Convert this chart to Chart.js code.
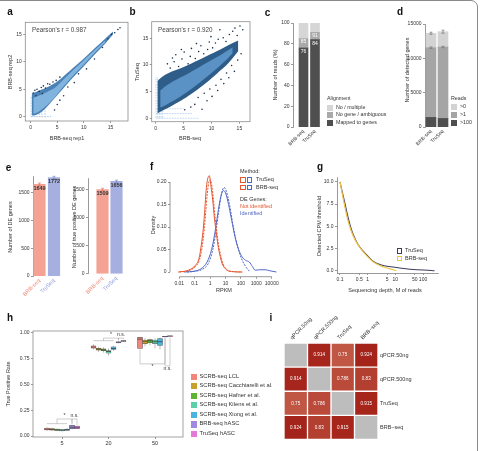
<!DOCTYPE html>
<html>
<head>
<meta charset="utf-8">
<title>BRB-seq vs TruSeq</title>
<script src="https://cdn.jsdelivr.net/npm/chart.js@4.4.1/dist/chart.umd.min.js"></script>
<style>
  body { margin: 0; background: #fff; }
  #page { position: relative; width: 481px; height: 451px; overflow: hidden; background: #fff;
          font-family: "Liberation Sans", Arial, sans-serif; color: #333; }
  #page canvas { position: absolute; left: 0; top: 0; }
  .t { position: absolute; white-space: nowrap; line-height: 1; }
  .sq { position: absolute; box-sizing: border-box; }
  #frame { position: absolute; left: -20px; top: 0; width: 498px; height: 480px;
           border: 1px solid #8a8a8a; border-radius: 7px; box-sizing: border-box; }
</style>
</head>
<body>
<div id="page"><div id="frame"></div></div>
<script>
const W = 481, H = 451
const FONT = "'Liberation Sans', Arial, sans-serif"
const page = document.getElementById("page")

// ---------- data ----------

// a: BRB-seq rep1 vs rep2 (dense band edges, outlier genes, low-count stripes)
const aBandX = [0.2, 1, 2, 3, 4, 5, 6, 8, 10, 12, 14, 15.5]
const aBandHi = [4.2, 4.5, 4.9, 5.3, 5.8, 6.4, 7.2, 8.9, 10.6, 12.4, 14.2, 15.5]
const aBandLo = [0.2, 0.3, 0.8, 1.7, 2.8, 3.9, 5.0, 7.2, 9.2, 11.3, 13.3, 15.0]
const aCoreX = [0.5, 1.5, 2.5, 3.5, 4.5, 6, 8, 10, 12, 14]
const aCoreHi = [3.4, 3.8, 4.2, 4.7, 5.2, 6.6, 8.5, 10.3, 12.1, 13.9]
const aCoreLo = [0.5, 0.9, 1.6, 2.5, 3.5, 5.3, 7.5, 9.5, 11.6, 13.5]
const aDotX = [0.5, 0.8, 1.2, 1.6, 2.0, 2.4, 2.8, 3.2, 3.6, 4.2, 4.8, 5.5, 1.0, 2.2, 4.5, 5.0, 5.5, 6.2, 7.0, 8.2, 9.0, 10.5, 12.0, 13.5, 14.5, 15.2, 15.8, 16.4, 16.8]
const aDotY = [4.3, 4.8, 5.0, 4.6, 5.3, 5.6, 5.2, 6.0, 5.9, 6.3, 6.6, 7.2, 3.8, 4.2, 1.2, 2.2, 3.0, 3.8, 5.4, 6.2, 7.8, 8.7, 10.5, 12.6, 14.2, 15.0, 15.3, 15.9, 16.2]
const aStripeX = [0.1, 0.5, 1.0, 1.6, 2.1, 2.7]
const aStripeTop = [3.6, 3.8, 4.0, 4.2, 4.0, 3.8]
const aRowY = [0]
const aRowEnd = [3.8]

// b: BRB-seq vs TruSeq
const bBandX = [0.3, 1.5, 3, 5, 7, 9, 11, 13, 14.8]
const bBandHi = [7.0, 8.0, 8.8, 9.6, 10.6, 11.6, 12.6, 13.7, 14.6]
const bBandLo = [0.9, 1.6, 2.4, 3.6, 5.0, 6.6, 8.4, 10.3, 12.6]
const bCoreX = [0.8, 2, 4, 6, 8, 10, 12, 13.8]
const bCoreHi = [5.2, 6.2, 7.4, 8.5, 9.7, 10.9, 12.1, 13.3]
const bCoreLo = [2.0, 2.6, 3.8, 5.2, 6.8, 8.5, 10.3, 12.2]
const bDotX = [2.1, 2.6, 3.3, 3.6, 4.1, 4.7, 5.1, 5.8, 6.2, 6.4, 7.1, 7.7, 8.1, 8.6, 9.3, 9.6, 10.2, 10.7, 11.2, 12.1, 12.6, 13.2, 13.8, 14.6, 15.1, 14.2, 15.6, 5.2, 6.3, 7.0, 7.6, 8.3, 8.7, 9.2, 9.7, 10.1, 10.8, 11.1, 11.7, 12.2, 12.7, 13.1, 13.6, 14.1, 14.7, 15.3, 3.0, 4.6, 7.3, 9.9, 11.5]
const bDotY = [10.2, 9.4, 10.6, 11.9, 9.7, 11.1, 12.4, 10.2, 11.6, 13.1, 11.2, 12.5, 13.6, 12.1, 12.9, 14.3, 13.2, 14.1, 14.8, 15.1, 14.4, 15.7, 16.3, 15.5, 17.3, 16.9, 16.6, 1.6, 2.1, 2.6, 3.9, 1.7, 4.7, 3.3, 5.5, 4.1, 6.2, 5.2, 7.3, 6.5, 8.5, 7.6, 9.9, 8.8, 10.9, 12.1, 11.3, 12.9, 14.0, 15.3, 16.6]
const bStripeX = [0.05, 0.35, 0.65, 0.95, 1.25]
const bStripeTop = [7.8, 7.6, 7.3, 7.0, 6.6]
const bRowY = [0, 0.9, 1.8]
const bRowEnd = [7.8, 6.5, 5.0]

// c: alignment (% of reads)
const methods = ["BRB-seq", "TruSeq"]
const mappedPct = [76, 84]
const noGenePct = [9, 7]
const multiPct = [15, 9]

// d: detected genes by read count
const reads100 = [1400, 1250]
const reads1 = [10150, 10400]
const reads0 = [2100, 2230]
const readsErrTop = [150, 220]
const readsErrMid = [110, 100]

// e: DE genes
const deGenes = [1649, 1772]
const deGenesErr = [25, 22]
const tpGenes = [1509, 1656]
const tpGenesErr = [22, 20]

// f: density of log10 RPKM
const redSolidX = [-2.07, -1.4, -0.95, -0.72, -0.57, -0.43, -0.34, -0.26, -0.17, -0.05, 0.06, 0.17, 0.28, 0.39, 0.51, 0.62, 0.77, 1.06, 1.4, 2.07]
const redSolidY = [0, 0.004, 0.015, 0.03, 0.06, 0.10, 0.14, 0.18, 0.205, 0.214, 0.19, 0.16, 0.12, 0.09, 0.06, 0.04, 0.02, 0.005, 0.001, 0]
const redDashX = [-2.0, -1.3, -0.9, -0.68, -0.52, -0.38, -0.28, -0.18, -0.08, 0.02, 0.12, 0.22, 0.33, 0.44, 0.56, 0.68, 0.84, 1.1, 1.5, 2.1]
const redDashY = [0, 0.004, 0.014, 0.028, 0.055, 0.095, 0.135, 0.175, 0.2, 0.205, 0.19, 0.16, 0.12, 0.088, 0.058, 0.038, 0.018, 0.005, 0.001, 0]
const blueSolidX = [-1.7, -1.0, -0.6, -0.2, 0.1, 0.3, 0.5, 0.68, 0.85, 1.0, 1.2, 1.4, 1.62, 1.85, 2.07, 2.3, 2.55, 2.75, 2.93, 3.2, 3.6, 3.85, 4.3]
const blueSolidY = [0, 0.002, 0.007, 0.022, 0.05, 0.085, 0.13, 0.165, 0.181, 0.176, 0.15, 0.115, 0.078, 0.05, 0.034, 0.026, 0.022, 0.012, 0.004, 0.005, 0.005, 0.003, 0]
const blueDashX = [-1.5, -0.9, -0.5, -0.1, 0.18, 0.38, 0.56, 0.72, 0.9, 1.05, 1.25, 1.45, 1.65, 1.88, 2.1, 2.35, 2.6]
const blueDashY = [0, 0.002, 0.006, 0.02, 0.05, 0.09, 0.135, 0.17, 0.188, 0.18, 0.152, 0.112, 0.075, 0.045, 0.025, 0.01, 0]
const rpkmTicks = [0.01, 0.1, 1, 10, 100, 1000, 10000]
const rpkmLabels = ["0.01", "0.1", "1", "10", "100", "1000", "10000"]

// g: CPM threshold vs sequencing depth
const depthTru = [0.1, 0.15, 0.2, 0.25, 0.3, 0.46, 0.8, 1.6, 3.6, 11, 44, 200, 260]
const cpmTru = [10, 7.6, 5.9, 4.8, 4.1, 2.9, 2.0, 1.05, 0.6, 0.37, 0.15, 0.03, 0.0]
const depthBrb = [0.1, 0.15, 0.2, 0.3, 0.5, 0.8, 1.6, 3.6, 6, 11]
const cpmBrb = [10, 7.2, 5.5, 3.9, 2.7, 1.9, 1.0, 0.45, 0.25, 0.0]
const depthTicks = [0.1, 0.5, 1, 5, 10, 50, 100]

// h: true positive rate boxplots
const tprGroups = ["5", "20", "50"]
const tprMethods = ["SCRB-seq LCL", "SCRB-seq Cacchiarelli et al.", "SCRB-seq Hafner et al.", "SCRB-seq Kilens et al.", "SCRB-seq Xiong et al.", "BRB-seq hASC", "TruSeq hASC"]
const tprLo  = [[0.050, 0.840, 0.850], [0.050, 0.815, 0.870], [0.047, 0.810, 0.880], [0.045, 0.780, 0.850], [0.050, 0.825, 0.840], [0.065, 0.900, 0.960], [0.068, 0.915, 0.964]]
const tprQ1  = [[0.058, 0.852, 0.850], [0.056, 0.832, 0.895], [0.053, 0.828, 0.905], [0.050, 0.805, 0.895], [0.055, 0.840, 0.880], [0.072, 0.903, 0.962], [0.072, 0.918, 0.966]]
const tprMed = [[0.066, 0.863, 0.940], [0.063, 0.842, 0.920], [0.060, 0.836, 0.925], [0.056, 0.820, 0.915], [0.062, 0.850, 0.915], [0.085, 0.910, 0.965], [0.085, 0.922, 0.970]]
const tprQ3  = [[0.078, 0.874, 0.958], [0.072, 0.850, 0.932], [0.066, 0.845, 0.935], [0.062, 0.830, 0.930], [0.068, 0.865, 0.945], [0.104, 0.915, 0.968], [0.097, 0.926, 0.973]]
const tprHi  = [[0.085, 0.890, 0.960], [0.080, 0.865, 0.950], [0.072, 0.860, 0.945], [0.070, 0.850, 0.950], [0.075, 0.875, 0.955], [0.110, 0.920, 0.970], [0.100, 0.930, 0.975]]
const sigGroup = [0, 0, 1, 1, 2, 2]
const sigFrom = [2, 5, 2, 5, 0, 5]
const sigTo = [5, 6, 5, 6, 5, 6]
const sigLevel = [0.165, 0.165, 0.95, 0.95, 0.70, 0.68]
const sigText = ["*", "n.s.", "*", "n.s.", "*", "n.s."]
const sigBase = [0.12, 0.925, null]

// i: correlation matrix
const corrNames = ["qPCR.50ng", "qPCR.500ng", "TruSeq", "BRB\u2212seq"]
const corrMatrix = [
  [null, 0.914, 0.75, 0.924],
  [0.914, null, 0.786, 0.83],
  [0.75, 0.786, null, 0.915],
  [0.924, 0.83, 0.915, null]
]

// ---------- styles ----------
const salmon = "#f3a293", lavender = "#a6b0e0"
const tprColors = ["#f3867c", "#c6a12c", "#5db530", "#5ccfa9", "#4ab4e0", "#a08ae0", "#e37bd6"]
const redLine = "#e6572f", blueLine = "#5166c6"

Chart.defaults.font.family = FONT
Chart.defaults.color = "#333"

// ---------- helpers ----------
function zip(xs, ys) { return xs.map((x, i) => ({ x, y: ys[i] })) }
function idx(ys) { return ys.map((y, i) => ({ x: i, y })) }
const plain = v => String(v)

function label(s, x, y, o = {}) {
  const d = document.createElement("div")
  d.className = "t"
  d.textContent = s
  d.style.left = x + "px"
  d.style.top = y + "px"
  d.style.fontSize = (o.size || 5.5) + "px"
  if (o.color) d.style.color = o.color
  if (o.bold) d.style.fontWeight = "bold"
  const ax = o.anchor === "c" ? "-50%" : o.anchor === "r" ? "-100%" : "0"
  d.style.transform = `translate(${ax},-50%)` + (o.rot ? ` rotate(${o.rot}deg)` : "")
  page.appendChild(d)
}
function square(x, y, s, fill, border, dashed) {
  const d = document.createElement("div")
  d.className = "sq"
  d.style.left = x + "px"
  d.style.top = (y - s / 2) + "px"
  d.style.width = s + "px"
  d.style.height = s + "px"
  if (fill) d.style.background = fill
  if (border) d.style.border = `1px ${dashed ? "dashed" : "solid"} ${border}`
  page.appendChild(d)
}

function scale(o) {
  const s = {
    type: o.type || "linear",
    offset: !!o.offset,
    ticks: {
      font: { size: o.size || 5, family: FONT },
      color: o.colors ? (ctx) => o.colors[ctx.index] : "#333",
      padding: o.pad ?? 1.5,
      autoSkip: false,
      maxRotation: o.rot || 0,
      minRotation: o.rot || 0
    },
    grid: { drawOnChartArea: false, offset: !!o.offset, drawTicks: o.tick !== 0, tickLength: o.tick ?? 2, color: "#555", lineWidth: 0.6 },
    border: { display: o.border ?? true, color: "#555", width: 0.6 }
  }
  if (o.position) s.position = o.position
  if (o.min !== undefined) s.min = o.min
  if (o.max !== undefined) s.max = o.max
  if (o.stacked) s.stacked = true
  if (o.at) s.afterBuildTicks = sc => { sc.ticks = o.at.map(v => ({ value: v })) }
  if (o.labels) s.ticks.callback = (v, i) => o.labels[i]
  if (o.fmt) s.ticks.callback = o.fmt
  return s
}

// every chart gets a full-page transparent canvas; the plot area is fixed by
// giving each axis the whole strip between the plot and the page edge
function chart(area, config) {
  const c = document.createElement("canvas")
  c.width = W
  c.height = H
  page.appendChild(c)
  const pad = { left: area[0], top: area[1], right: W - area[2], bottom: H - area[3] }
  const scales = (config.options && config.options.scales) || {}
  Object.keys(scales).forEach(id => {
    const s = scales[id]
    const side = s.position || (id === "x" ? "bottom" : "left")
    const size = pad[side]
    pad[side] = 0
    s.afterFit = sc => {
      if (sc.isHorizontal()) sc.height = size; else sc.width = size
      sc.paddingLeft = sc.paddingRight = sc.paddingTop = sc.paddingBottom = 0
    }
  })
  config.options = Object.assign({ responsive: false, animation: false, events: [] }, config.options || {})
  config.options.layout = { padding: pad }
  config.options.plugins = Object.assign({ legend: { display: false }, tooltip: { enabled: false } }, config.options.plugins || {})
  return new Chart(c, config)
}

const framePlugin = {
  id: "frameBox",
  afterDraw(c) {
    const a = c.chartArea, ctx = c.ctx
    ctx.save()
    ctx.strokeStyle = "#8c8c8c"
    ctx.lineWidth = 0.8
    ctx.strokeRect(a.left, a.top, a.right - a.left, a.bottom - a.top)
    ctx.restore()
  }
}

// R style axis lines, only between first and last tick
const rAxesPlugin = {
  id: "rAxes",
  afterDraw(c) {
    const ctx = c.ctx, x = c.scales.x, y = c.scales.y
    ctx.save()
    ctx.strokeStyle = "#555"
    ctx.lineWidth = 0.6
    ctx.beginPath()
    ctx.moveTo(x.getPixelForValue(x.ticks[0].value), x.top)
    ctx.lineTo(x.getPixelForValue(x.ticks[x.ticks.length - 1].value), x.top)
    ctx.moveTo(y.right, y.getPixelForValue(y.ticks[0].value))
    ctx.lineTo(y.right, y.getPixelForValue(y.ticks[y.ticks.length - 1].value))
    ctx.stroke()
    ctx.restore()
  }
}

function errPlugin(specs) {
  return {
    id: "errs",
    afterDatasetsDraw(c) {
      const ctx = c.ctx, y = c.scales.y
      ctx.save()
      ctx.lineWidth = 0.7
      specs.forEach(s => {
        c.getDatasetMeta(s.ds).data.forEach((el, j) => {
          const top = y.getPixelForValue(s.val[j] + s.err[j])
          const bot = y.getPixelForValue(s.val[j] - s.err[j])
          ctx.strokeStyle = Array.isArray(s.color) ? s.color[j] : s.color
          ctx.beginPath()
          ctx.moveTo(el.x, top); ctx.lineTo(el.x, bot)
          ctx.moveTo(el.x - 1.5, top); ctx.lineTo(el.x + 1.5, top)
          ctx.moveTo(el.x - 1.5, bot); ctx.lineTo(el.x + 1.5, bot)
          ctx.stroke()
        })
      })
      ctx.restore()
    }
  }
}

function textPlugin(specs) {
  return {
    id: "barText",
    afterDatasetsDraw(c) {
      const ctx = c.ctx
      ctx.save()
      ctx.textAlign = "center"
      ctx.textBaseline = "top"
      specs.forEach(s => {
        ctx.font = (s.bold ? "bold " : "") + s.size + "px " + FONT
        ctx.fillStyle = s.color
        c.getDatasetMeta(s.ds).data.forEach((el, j) => ctx.fillText(s.text[j], el.x, el.y + s.dy))
      })
      ctx.restore()
    }
  }
}

// ---------- a, b: density scatter ----------
function band(data, color, fill) {
  return { type: "line", data, fill, backgroundColor: color, borderColor: "rgba(0,0,0,0)", borderWidth: 0, pointRadius: 0, tension: 0.35 }
}
function dotted(data, color) {
  return { type: "line", data, fill: false, borderColor: color, borderWidth: 1.1, borderDash: [0.7, 0.9], pointRadius: 0 }
}
function densityScatter(area, xr, yr, d, col) {
  const datasets = [
    { type: "scatter", data: zip(d.dotX, d.dotY), pointRadius: 0.8, pointBackgroundColor: col.dot, pointBorderWidth: 0 },
    band(zip(d.coreX, d.coreHi), col.core, "+1"),
    band(zip(d.coreX, d.coreLo), col.core, false),
    band(zip(d.bandX, d.bandHi), col.band, "+1"),
    band(zip(d.bandX, d.bandLo), col.band, false)
  ]
  d.stripeX.forEach((x, i) => datasets.push(dotted([{ x, y: 0 }, { x, y: d.stripeTop[i] }], col.stripe)))
  d.rowY.forEach((y, i) => datasets.push(dotted([{ x: 0.05, y }, { x: d.rowEnd[i], y }], col.stripe)))
  chart(area, {
    type: "scatter",
    data: { datasets },
    options: {
      scales: {
        x: scale({ min: xr[0], max: xr[1], at: [0, 5, 10, 15], border: false }),
        y: scale({ min: yr[0], max: yr[1], at: [0, 5, 10, 15], border: false })
      }
    },
    plugins: [framePlugin]
  })
}

densityScatter([25.3, 22.3, 128, 121], [-1.0, 18.3], [-0.8, 17.2],
  { bandX: aBandX, bandHi: aBandHi, bandLo: aBandLo, coreX: aCoreX, coreHi: aCoreHi, coreLo: aCoreLo,
    dotX: aDotX, dotY: aDotY, stripeX: aStripeX, stripeTop: aStripeTop, rowY: aRowY, rowEnd: aRowEnd },
  { band: "#4b82b5", core: "#80b4de", dot: "#1f3550", stripe: "#9cc3e6" })

densityScatter([151.7, 21.7, 250, 121.7], [-0.72, 16.9], [-0.64, 18.1],
  { bandX: bBandX, bandHi: bBandHi, bandLo: bBandLo, coreX: bCoreX, coreHi: bCoreHi, coreLo: bCoreLo,
    dotX: bDotX, dotY: bDotY, stripeX: bStripeX, stripeTop: bStripeTop, rowY: bRowY, rowEnd: bRowEnd },
  { band: "#2f5d8a", core: "#5a92c5", dot: "#1b2f47", stripe: "#a8c9e8" })

// ---------- c: alignment ----------
chart([293, 23, 321, 127], {
  type: "bar",
  data: { datasets: [
    { data: idx(mappedPct), backgroundColor: "#4f4f4f", barThickness: 9 },
    { data: idx(noGenePct), backgroundColor: "#a9a9a9", barThickness: 9 },
    { data: idx(multiPct), backgroundColor: "#d6d6d6", barThickness: 9 }
  ] },
  options: {
    scales: {
      x: scale({ min: -0.913, max: 1.522, at: [0, 1], labels: methods, rot: 45, border: false, tick: 0, stacked: true }),
      y: scale({ min: 0, max: 100, at: [0, 20, 40, 60, 80, 100], stacked: true })
    }
  },
  plugins: [textPlugin([
    { ds: 0, text: mappedPct.map(String), color: "#fff", size: 5, dy: 1 },
    { ds: 1, text: mappedPct.map((v, i) => String(v + noGenePct[i])), color: "#fff", size: 5, dy: 1 }
  ])]
})

// ---------- d: detected genes ----------
chart([425, 24, 449, 127], {
  type: "bar",
  data: { datasets: [
    { data: idx(reads100), backgroundColor: "#4f4f4f", barThickness: 10 },
    { data: idx(reads1), backgroundColor: "#a5a5a5", barThickness: 10 },
    { data: idx(reads0), backgroundColor: "#d3d3d3", barThickness: 10 }
  ] },
  options: {
    scales: {
      x: scale({ min: -0.5, max: 1.5, at: [0, 1], labels: methods, rot: 45, border: false, tick: 0, stacked: true }),
      y: scale({ min: 0, max: 15000, at: [0, 5000, 10000, 15000], fmt: plain, stacked: true })
    }
  },
  plugins: [errPlugin([
    { ds: 2, val: reads0.map((v, i) => v + reads1[i] + reads100[i]), err: readsErrTop, color: "#777" },
    { ds: 1, val: reads1.map((v, i) => v + reads100[i]), err: readsErrMid, color: "#777" }
  ])]
})

// ---------- e: DE genes ----------
function deChart(area, xr, ymax, vals, errs) {
  chart(area, {
    type: "bar",
    data: { datasets: [{ data: idx(vals), backgroundColor: [salmon, lavender], barThickness: 11.5 }] },
    options: {
      scales: {
        x: scale({ min: xr[0], max: xr[1], at: [0, 1], labels: methods, rot: 45, border: false, tick: 0, size: 5.5, colors: ["#ef8a78", "#8e9ad8"] }),
        y: scale({ min: 0, max: ymax, at: [0, 500, 1000, 1500], fmt: plain })
      }
    },
    plugins: [
      errPlugin([{ ds: 0, val: vals, err: errs, color: ["#e0776a", "#7b86c9"] }]),
      textPlugin([{ ds: 0, text: vals.map(String), color: "#333", size: 5.5, bold: true, dy: 1 }])
    ]
  })
}
deChart([33, 176, 61, 276], [-0.448, 1.483], 1800, deGenes, deGenesErr)
deChart([88, 178, 124, 273.7], [-1.036, 1.536], 1715, tpGenes, tpGenesErr)

// ---------- f: RPKM density ----------
function curve(xs, ys, color, dash) {
  return { data: xs.map((x, i) => ({ x: Math.pow(10, x), y: ys[i] })), borderColor: color, borderWidth: 1,
           borderDash: dash ? [2, 1.2] : [], pointRadius: 0, tension: 0.4, cubicInterpolationMode: "monotone", fill: false }
}
chart([170, 170, 277, 276.7], {
  type: "line",
  data: { datasets: [
    curve(redDashX, redDashY, redLine, true),
    curve(redSolidX, redSolidY, redLine, false),
    curve(blueDashX, blueDashY, blueLine, true),
    curve(blueSolidX, blueSolidY, blueLine, false)
  ] },
  options: {
    scales: {
      x: scale({ type: "logarithmic", min: 0.00251, max: 21878, at: rpkmTicks, labels: rpkmLabels, border: false }),
      y: scale({ min: -0.0104, max: 0.2267, at: [0, 0.05, 0.1, 0.15, 0.2], labels: ["0", "0.05", "0.10", "0.15", "0.20"], border: false })
    }
  },
  plugins: [rAxesPlugin]
})

// ---------- g: CPM threshold ----------
chart([337, 177, 438, 273], {
  type: "line",
  data: { datasets: [
    { data: zip(depthBrb, cpmBrb), borderColor: "#efc444", borderWidth: 1.2, pointRadius: 0, tension: 0.3, cubicInterpolationMode: "monotone" },
    { data: zip(depthTru, cpmTru), borderColor: "#3d3d5e", borderWidth: 1.1, pointRadius: 0, tension: 0.3, cubicInterpolationMode: "monotone" }
  ] },
  options: {
    scales: {
      x: scale({ type: "logarithmic", min: 0.078, max: 347, at: depthTicks, fmt: plain }),
      y: scale({ min: -0.25, max: 10.55, at: [0, 2.5, 5, 7.5, 10], fmt: v => v.toFixed(1) })
    }
  }
})

// ---------- h: true positive rate ----------
const boxPlugin = {
  id: "boxes",
  beforeDatasetsDraw(c) {
    const ctx = c.ctx, y = c.scales.y
    ctx.save()
    ctx.strokeStyle = "#777"
    ctx.lineWidth = 0.5
    tprMethods.forEach((m, i) => {
      c.getDatasetMeta(i).data.forEach((el, g) => {
        ctx.beginPath()
        ctx.moveTo(el.x, y.getPixelForValue(tprLo[i][g]))
        ctx.lineTo(el.x, y.getPixelForValue(tprHi[i][g]))
        ctx.stroke()
      })
    })
    ctx.restore()
  },
  afterDatasetsDraw(c) {
    const ctx = c.ctx, y = c.scales.y
    ctx.save()
    ctx.strokeStyle = "#333"
    ctx.lineWidth = 0.7
    tprMethods.forEach((m, i) => {
      c.getDatasetMeta(i).data.forEach((el, g) => {
        const py = y.getPixelForValue(tprMed[i][g])
        ctx.beginPath()
        ctx.moveTo(el.x - el.width / 2, py)
        ctx.lineTo(el.x + el.width / 2, py)
        ctx.stroke()
      })
    })
    // significance brackets
    const px = (m, g) => c.getDatasetMeta(m).data[g].x
    ctx.strokeStyle = "#9a9a9a"
    ctx.lineWidth = 0.5
    ctx.fillStyle = "#333"
    ctx.font = "5px " + FONT
    ctx.textAlign = "center"
    sigBase.forEach((b, g) => {
      if (b === null) return
      ctx.beginPath()
      ctx.moveTo(px(0, g), y.getPixelForValue(b))
      ctx.lineTo(px(4, g), y.getPixelForValue(b))
      ctx.stroke()
    })
    sigGroup.forEach((g, k) => {
      const x1 = px(sigFrom[k], g), x2 = px(sigTo[k], g)
      const lv = y.getPixelForValue(sigLevel[k])
      const up = sigLevel[k] > tprHi[sigTo[k]][g]
      const end = m => {
        if (m < 5 && sigBase[g] !== null) return y.getPixelForValue(sigBase[g])
        return y.getPixelForValue(up ? tprHi[m][g] + 0.01 : tprLo[m][g] - 0.01)
      }
      ctx.beginPath()
      ctx.moveTo(x1, end(sigFrom[k]))
      ctx.lineTo(x1, lv)
      ctx.lineTo(x2, lv)
      ctx.lineTo(x2, end(sigTo[k]))
      ctx.stroke()
      ctx.textBaseline = up ? "bottom" : "top"
      ctx.fillText(sigText[k], (x1 + x2) / 2, lv + (up ? -0.5 : 0.5))
    })
    ctx.restore()
  }
}
chart([33, 331, 183, 437], {
  type: "bar",
  data: { datasets: tprMethods.map((m, i) => ({
    label: m,
    data: tprGroups.map((g, j) => ({ x: j + 1, y: [tprQ1[i][j], tprQ3[i][j]] })),
    backgroundColor: tprColors[i],
    borderColor: "#555",
    borderWidth: 0.5,
    borderSkipped: false,
    barThickness: 5
  })) },
  options: {
    scales: {
      x: scale({ min: 0.376, max: 3.602, at: [1, 2, 3], labels: tprGroups, border: false, size: 5.5 }),
      y: scale({ min: -0.0097, max: 1.019, at: [0, 0.25, 0.5, 0.75, 1], fmt: v => v.toFixed(2), border: false })
    }
  },
  plugins: [boxPlugin, framePlugin]
})

// ---------- i: correlation heatmap ----------
function cellColor(v) {
  if (v === null) return "#bdbdbd"
  const t = Math.max(0, Math.min(1, (v - 0.7) / 0.25))
  const lo = [200, 100, 80], hi = [160, 28, 20]
  const c = lo.map((a, k) => Math.round(a + (hi[k] - a) * t))
  return `rgb(${c[0]},${c[1]},${c[2]})`
}
const cellTextPlugin = {
  id: "cellText",
  afterDatasetsDraw(c) {
    const ctx = c.ctx
    ctx.save()
    ctx.fillStyle = "#fff"
    ctx.font = "4.5px " + FONT
    ctx.textAlign = "center"
    ctx.textBaseline = "middle"
    corrNames.forEach((col, j) => {
      c.getDatasetMeta(j).data.forEach((el, r) => {
        const v = corrMatrix[r][j]
        if (v !== null) ctx.fillText(String(v), (el.x + el.base) / 2, el.y)
      })
    })
    ctx.restore()
  }
}
chart([284, 343, 378, 439.5], {
  type: "bar",
  data: {
    labels: corrNames,
    datasets: corrNames.map((col, j) => ({
      data: corrNames.map(() => 1),
      backgroundColor: corrNames.map((row, r) => cellColor(corrMatrix[r][j])),
      borderColor: "#fff",
      borderWidth: 1,
      borderSkipped: false,
      barPercentage: 1,
      categoryPercentage: 1
    }))
  },
  options: {
    indexAxis: "y",
    scales: {
      x: scale({ position: "top", min: 0, max: 4, at: [0.5, 1.5, 2.5, 3.5], labels: corrNames, rot: 45, border: false, tick: 0, size: 5.5, pad: 2, stacked: true }),
      y: scale({ type: "category", position: "right", border: false, tick: 0, size: 5.5, pad: 2, offset: true, stacked: true })
    }
  },
  plugins: [cellTextPlugin]
})

// ---------- text, titles and legends ----------
const letters = [["a", 10, 12], ["b", 132.5, 11.5], ["c", 267.5, 12.5], ["d", 400, 11.7], ["e", 8.5, 167.5],
                 ["f", 151.7, 166.7], ["g", 320, 167], ["h", 10, 318.3], ["i", 271, 318.3]]
letters.forEach(l => label(l[0], l[1], l[2], { size: 10, bold: true, anchor: "c", color: "#111" }))

label("Pearson's r = 0.987", 32, 30, { size: 6.3, color: "#444" })
label("Pearson's r = 0.920", 158, 30, { size: 6.3, color: "#444" })
label("BRB-seq rep2", 11, 72, { anchor: "c", rot: -90 })
label("BRB-seq rep1", 67, 139, { anchor: "c" })
label("TruSeq", 138, 72, { anchor: "c", rot: -90 })
label("BRB-seq", 190, 139, { anchor: "c" })

label("Number of reads (%)", 276, 75, { anchor: "c", rot: -90 })
label("Alignment", 327, 99, { size: 5.3 })
const alignLegend = [["No / multiple", "#d6d6d6"], ["No gene / ambiguous", "#a9a9a9"], ["Mapped to genes", "#4f4f4f"]]
alignLegend.forEach((it, k) => {
  square(327, 107.7 + k * 7.7, 6, it[1])
  label(it[0], 336, 107.7 + k * 7.7, { size: 5.3 })
})

label("Number of detected genes", 407.5, 70, { anchor: "c", rot: -90 })
label("Reads", 451, 99, { size: 5.3 })
const readsLegend = [[">0", "#d3d3d3"], [">1", "#a5a5a5"], [">100", "#4f4f4f"]]
readsLegend.forEach((it, k) => {
  square(451, 107.3 + k * 8, 6, it[1])
  label(it[0], 460, 107.3 + k * 8, { size: 5.3 })
})

label("Number of DE genes", 10.5, 227, { anchor: "c", rot: -90 })
label("Number of true positive DE genes", 74.5, 227, { anchor: "c", rot: -90 })

label("Density", 153.5, 224.5, { anchor: "c", rot: -90 })
label("RPKM", 224, 291, { anchor: "c" })
label("Method:", 240, 172.3)
square(240, 180, 5.5, null, redLine, true)
square(246.5, 180, 5.5, null, blueLine, true)
label("TruSeq", 256, 180)
square(240, 187.7, 5.5, null, redLine, false)
square(246.5, 187.7, 5.5, null, blueLine, false)
label("BRB-seq", 256, 187.7)
label("DE Genes:", 240, 200)
label("Not identified", 240, 207.3, { color: redLine })
label("Identified", 240, 214.3, { color: blueLine })

label("Detected CPM threshold", 319.5, 226, { anchor: "c", rot: -90 })
label("Sequencing depth, M of reads", 385, 291, { anchor: "c" })
square(396.7, 251, 5.5, null, "#3d3d5e", false)
label("TruSeq", 405, 251)
square(396.7, 258.5, 5.5, null, "#efc444", false)
label("BRB-seq", 405, 258.5)

label("True Positive Rate", 8.5, 383.5, { anchor: "c", rot: -90 })
tprMethods.forEach((m, k) => {
  square(190.5, 376.7 + k * 9.55, 6.2, tprColors[k])
  label(m, 199.5, 376.7 + k * 9.55, { size: 5.8 })
})
</script>
</body>
</html>
